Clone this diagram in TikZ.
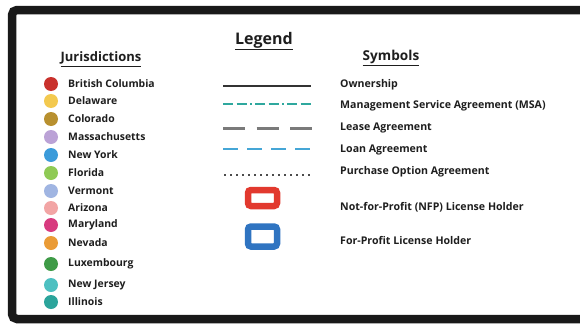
\documentclass[tikz,border=0pt]{standalone}
\usepackage{fontspec}
\setmainfont{Open Sans}
\definecolor{txt}{HTML}{1E1E1E}
\definecolor{cBC}{HTML}{C9312C}
\definecolor{cDE}{HTML}{F3C94F}
\definecolor{cCO}{HTML}{B8902F}
\definecolor{cMA}{HTML}{BBA2D6}
\definecolor{cNY}{HTML}{3B9BDA}
\definecolor{cFL}{HTML}{8FCA55}
\definecolor{cVT}{HTML}{A0B5E2}
\definecolor{cAZ}{HTML}{F2A5A5}
\definecolor{cMD}{HTML}{D83B7F}
\definecolor{cNV}{HTML}{EA9B36}
\definecolor{cLU}{HTML}{3F9B47}
\definecolor{cNJ}{HTML}{4DC0C1}
\definecolor{cIL}{HTML}{2BA49B}
\definecolor{msa}{HTML}{2FA89E}
\definecolor{lease}{HTML}{7A7A7A}
\definecolor{loan}{HTML}{45A6D6}
\definecolor{nfp}{HTML}{E2392E}
\definecolor{fp}{HTML}{2F74C1}
\tikzset{
  dot/.style={circle, inner sep=0pt, minimum size=14pt},
  jlabel/.style={anchor=west, inner sep=0pt, text=txt, font=\bfseries\fontsize{10.4}{12}\selectfont},
  slabel/.style={anchor=west, inner sep=0pt, text=txt, font=\bfseries\fontsize{10.6}{12}\selectfont},
  heading/.style={inner sep=0pt, text=txt, font=\bfseries\fontsize{13}{15}\selectfont},
  lichold/.style={rounded corners=3pt, line width=6.5pt, minimum width=29pt, minimum height=16pt, inner sep=0pt, fill=white}
}
\begin{document}
\begin{tikzpicture}[x=1pt,y=-1pt]
\useasboundingbox (0,0) rectangle (580,324);
\fill[white] (0,0) rectangle (580,324);
\draw[line width=8.5pt, rounded corners=5pt, black!90] (12,10) rectangle (600,319);
% headings
\node[heading, font=\bfseries\fontsize{16}{18}\selectfont] (legend) at (264,41) {\underline{Legend}};
\node[heading] (jur) at (101,59) {\underline{Jurisdictions}};
\node[heading, font=\bfseries\fontsize{13.6}{15}\selectfont] (sym) at (391,58) {\underline{Symbols}};
% jurisdictions
\foreach \y/\c/\t [count=\i] in {84/cBC/British Columbia, 101/cDE/Delaware, 119/cCO/Colorado, 137/cMA/Massachusetts, 155/cNY/New York, 173/cFL/Florida, 191/cVT/Vermont, 208/cAZ/Arizona, 225/cMD/Maryland, 243/cNV/Nevada, 264/cLU/Luxembourg, 285/cNJ/New Jersey, 302/cIL/Illinois}{
  \node[dot, fill=\c] (d\i) at (51,\y) {};
  \node[jlabel] (j\i) at (68,\y) {\t};
}
% symbol samples
\coordinate (o1) at (223,86); \coordinate (o2) at (311,86);
\coordinate (m1) at (223,104); \coordinate (m2) at (313,104);
\coordinate (l1) at (223,128); \coordinate (l2) at (312,128);
\coordinate (n1) at (223,149); \coordinate (n2) at (310,149);
\coordinate (p1) at (224,175); \coordinate (p2) at (313,175);
\draw[line width=2.2pt, black!80] (o1) -- (o2);
\draw[line width=2pt, msa, dash pattern=on 10pt off 3.5pt on 10pt off 3.5pt on 1.5pt off 3.5pt] (m1) -- (m2);
\draw[line width=3pt, lease, dash pattern=on 22pt off 11.5pt] (l1) -- (l2);
\draw[line width=2pt, loan, dash pattern=on 15pt off 9pt] (n1) -- (n2);
\draw[line width=1.6pt, black!70, dash pattern=on 1.6pt off 4.4pt] (p1) -- (p2);
\node[lichold, draw=nfp] (nfpbox) at (262.5,198) {};
\node[lichold, draw=fp, minimum height=20pt] (fpbox) at (262.5,236.5) {};
% symbol labels
\node[slabel] (s1) at (340,85) {Ownership};
\node[slabel] (s2) at (340,106) {Management Service Agreement (MSA)};
\node[slabel] (s3) at (340,128) {Lease Agreement};
\node[slabel] (s4) at (340,150) {Loan Agreement};
\node[slabel] (s5) at (340,172) {Purchase Option Agreement};
\node[slabel] (s6) at (340,207) {Not-for-Profit (NFP) License Holder};
\node[slabel] (s7) at (340,240) {For-Profit License Holder};
\end{tikzpicture}
\end{document}
